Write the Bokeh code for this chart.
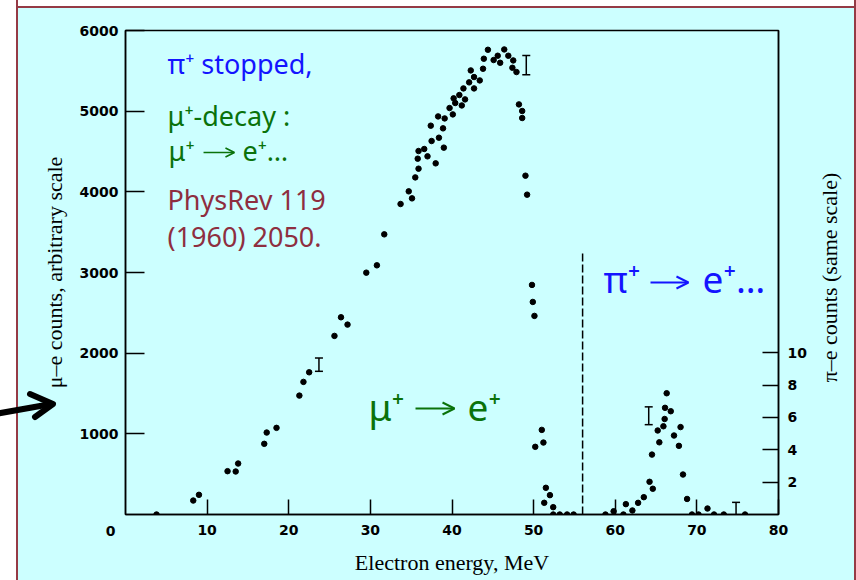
import math
from bokeh.plotting import figure
from bokeh.models import (Range1d, LinearAxis, FixedTicker, Label, Arrow, OpenHead)
from bokeh.embed import file_html
from bokeh.resources import INLINE

# ---------------- data ----------------
mu_energy = [3.8, 8.3, 9.0, 12.5, 13.5, 13.8, 17.0, 17.3, 18.5, 21.3, 21.8, 22.5,
             25.6, 26.4, 27.2, 29.5, 30.8, 31.7, 33.7, 34.7, 35.1, 35.5, 35.9, 35.8,
             35.9, 36.6, 37.0, 38.0, 37.5, 39.0, 38.4, 37.4, 38.9, 38.3, 39.1, 40.1,
             39.7, 40.4, 40.2, 41.2, 40.9, 41.6, 41.4, 42.1, 42.7, 42.7, 43.4, 42.3,
             43.8, 43.9, 44.4, 45.1, 45.6, 45.9, 46.4, 46.9, 47.5, 47.4, 47.9, 48.2,
             48.6, 48.6, 49.0, 49.2, 49.8, 49.9, 50.1, 51.0, 50.2, 51.2, 51.5, 52.0,
             51.3, 52.4, 52.4, 53.2, 54.1, 54.9]
mu_counts = [0, 173, 244, 537, 533, 632, 876, 1016, 1074, 1474, 1644, 1763,
             2214, 2445, 2354, 2998, 3089, 3473, 3849, 4006, 3919, 4179, 4287, 4411,
             4506, 4531, 4440, 4353, 4630, 4548, 4671, 4820, 4787, 4935, 4910, 4960,
             5039, 5101, 5159, 5071, 5200, 5146, 5282, 5357, 5282, 5423, 5381, 5505,
             5526, 5650, 5761, 5634, 5687, 5600, 5765, 5687, 5629, 5538, 5485, 5084,
             5002, 4915, 4200, 3965, 2846, 2635, 2462, 1049, 839, 892, 331, 240,
             145, 91, 0, 0, 0, 0]

pi_energy = [58.8, 59.8, 61.0, 61.3, 62.1, 62.8, 63.5, 64.2, 64.6, 64.5, 65.4, 65.2,
             65.9, 66.05, 66.1, 66.3, 66.8, 67.2, 67.8, 68.0, 68.3, 68.8, 69.4, 70.2,
             71.3, 72.1, 73.3, 75.9]
pi_counts = [0, 0.2, 0, 0.64, 0.25, 0.72, 1.07, 2.02, 1.59, 3.7, 4.46, 5.19,
             5.45, 5.9, 6.59, 7.49, 6.38, 4.88, 4.24, 5.4, 2.47, 0.96, 0, 0,
             0.37, 0, 0, 0]

mu_err_energy = [23.7, 49.1]
mu_err_low = [1775, 5450]
mu_err_high = [1940, 5690]

pi_err_energy = [64.1, 74.8]
pi_err_low = [5.55, -0.45]
pi_err_high = [6.65, 0.75]

divider_energy = [56]
divider_bottom = [0]
divider_top = [3250]

x_ticks = [10, 20, 30, 40, 50, 60, 70, 80]
left_ticks = [1000, 2000, 3000, 4000, 5000, 6000]
right_ticks = [2, 4, 6, 8, 10]

# ---------------- styling ----------------
CYAN = "#CCFFFF"
RED_BORDER = "#953A45"
BLUE = "#1414FF"
GREEN = "#0A720A"
DARKRED = "#8E2E40"
TICK_FONT = "DejaVu Sans"
SERIF = "Liberation Serif"
SANS = "Noto Sans"

p = figure(width=856, height=580,
           x_range=Range1d(0, 80), y_range=Range1d(0, 6000),
           output_backend="svg", toolbar_location=None,
           min_border_left=125, min_border_right=78,
           min_border_top=30, min_border_bottom=66,
           background_fill_color=CYAN, border_fill_color=None,
           x_axis_label="Electron energy, MeV",
           y_axis_label="\u03bc\u2013e counts, arbitrary scale")
p.extra_y_ranges = {"pi": Range1d(0, 29.9)}

# slide-like page behind the canvas: hand-drawn pointer arrow, white strip,
# thin dark-red frame and cyan fill
pointer_svg = ("url(\"data:image/svg+xml;utf8,<svg xmlns='http://www.w3.org/2000/svg' "
               "width='64' height='44'>"
               "<path d='M-2 31.5 L50 22.3' stroke='black' stroke-width='6' "
               "stroke-linecap='round' fill='none'/>"
               "<path d='M30 12 L53 22 L35 35' stroke='black' stroke-width='6' "
               "stroke-linecap='round' stroke-linejoin='round' fill='none'/>"
               "</svg>\") 0px 382px / 64px 44px no-repeat")
p.styles = {
    "background": (
        pointer_svg + ", "
        "linear-gradient(to right, #ffffff 0px, #ffffff 16px, " + RED_BORDER + " 16px, "
        + RED_BORDER + " 18px, rgba(0,0,0,0) 18px, rgba(0,0,0,0) 854px, "
        + RED_BORDER + " 854px, " + RED_BORDER + " 856px), "
        "linear-gradient(to bottom, #ffffff 0px, #ffffff 6px, " + RED_BORDER + " 6px, "
        + RED_BORDER + " 8px, " + CYAN + " 8px, " + CYAN + " 100%)"
    )
}

p.xgrid.visible = False
p.ygrid.visible = False
p.outline_line_color = "black"
p.outline_line_width = 1.5

right_axis = LinearAxis(y_range_name="pi")
p.add_layout(right_axis, "right")

def style_axis(ax, tick_in):
    ax.major_tick_in = tick_in
    ax.major_tick_out = 0
    ax.minor_tick_line_color = None
    ax.axis_line_width = 1.5
    ax.major_tick_line_width = 1.5
    ax.major_label_text_font = TICK_FONT
    ax.major_label_text_font_style = "bold"
    ax.major_label_text_font_size = "14px"
    ax.major_label_text_color = "black"
    ax.axis_label_text_font = SERIF
    ax.axis_label_text_font_style = "normal"
    ax.axis_label_text_font_size = "22px"
    ax.axis_label_text_color = "black"

xa = p.xaxis[0]
ya = p.yaxis[0]
style_axis(xa, 15)
style_axis(ya, 19)
style_axis(right_axis, 16)
xa.ticker = FixedTicker(ticks=x_ticks)
ya.ticker = FixedTicker(ticks=left_ticks)
right_axis.ticker = FixedTicker(ticks=right_ticks)
xa.major_label_standoff = 10
xa.axis_label_standoff = 12
ya.major_label_standoff = 7
ya.axis_label_standoff = 10
right_axis.major_label_standoff = 9

# right-hand title, reading bottom to top and centred like the original
p.add_layout(Label(x=86.2, y=2938, text="\u03c0\u2013e counts (same scale)",
                   angle=math.pi / 2, text_font=SERIF, text_font_size="22px",
                   text_align="center", text_baseline="middle", text_color="black"),
             "right")

# x "0" label, placed left of the corner as in the original (top panel has room)
p.add_layout(Label(x=0, y=0, x_offset=-15, y_offset=-16, text="0",
                   text_font=TICK_FONT, text_font_style="bold", text_font_size="14px",
                   text_align="center", text_baseline="middle", text_color="black"),
             "above")

# dashed divider
p.segment(x0=divider_energy, y0=divider_bottom, x1=divider_energy, y1=divider_top,
          line_color="black", line_width=1.5, line_dash="8 3")

# data points
p.scatter(mu_energy, mu_counts, size=5.5, color="black")
p.scatter(pi_energy, pi_counts, size=5.5, color="black", y_range_name="pi")

# error bars
p.segment(x0=mu_err_energy, y0=mu_err_low, x1=mu_err_energy, y1=mu_err_high,
          line_color="black", line_width=1.5)
p.scatter(mu_err_energy + mu_err_energy, mu_err_low + mu_err_high, marker="dash",
          size=8, line_color="black", line_width=1.5)
p.segment(x0=pi_err_energy, y0=pi_err_low, x1=pi_err_energy, y1=pi_err_high,
          line_color="black", line_width=1.5, y_range_name="pi")
p.scatter(pi_err_energy + pi_err_energy, pi_err_low + pi_err_high, marker="dash",
          size=8, line_color="black", line_width=1.5, y_range_name="pi")

# annotations
def add_text(x, y, txt, color, size, dy):
    p.add_layout(Label(x=x, y=y, y_offset=dy, text=txt, text_color=color, text_font=SANS,
                       text_font_size=size, text_align="left",
                       text_baseline="alphabetic"))

def add_arrow(x0, x1, y, color, width, head):
    p.add_layout(Arrow(x_start=x0, y_start=y, x_end=x1, y_end=y,
                       line_color=color, line_width=width,
                       end=OpenHead(size=head, line_width=width, line_color=color)))

add_text(5.15, 5471, "\u03c0\u207a stopped,", BLUE, "27px", 10)
add_text(5.15, 4822, "\u03bc\u207a-decay :", GREEN, "27px", 10)
add_text(5.27, 4389, "\u03bc\u207a", GREEN, "27px", 10)
add_arrow(9.56, 13.35, 4488, GREEN, 1.6, 9)
add_text(14.33, 4389, "e\u207a\u2026", GREEN, "27px", 10)
add_text(5.15, 3777, "PhysRev 119", DARKRED, "27px", 10)
add_text(5.15, 3322, "(1960) 2050.", DARKRED, "27px", 10)

add_text(58.56, 2777, "\u03c0\u207a", BLUE, "37px", 12)
add_arrow(64.32, 68.97, 2876, BLUE, 2, 12)
add_text(70.69, 2777, "e\u207a\u2026", BLUE, "37px", 12)

add_text(29.77, 1190, "\u03bc\u207a", GREEN, "37px", 12)
add_arrow(35.53, 40.31, 1314, GREEN, 2, 12)
add_text(41.90, 1190, "e\u207a", GREEN, "37px", 12)

open("out.html", "w").write(file_html(p, INLINE))
